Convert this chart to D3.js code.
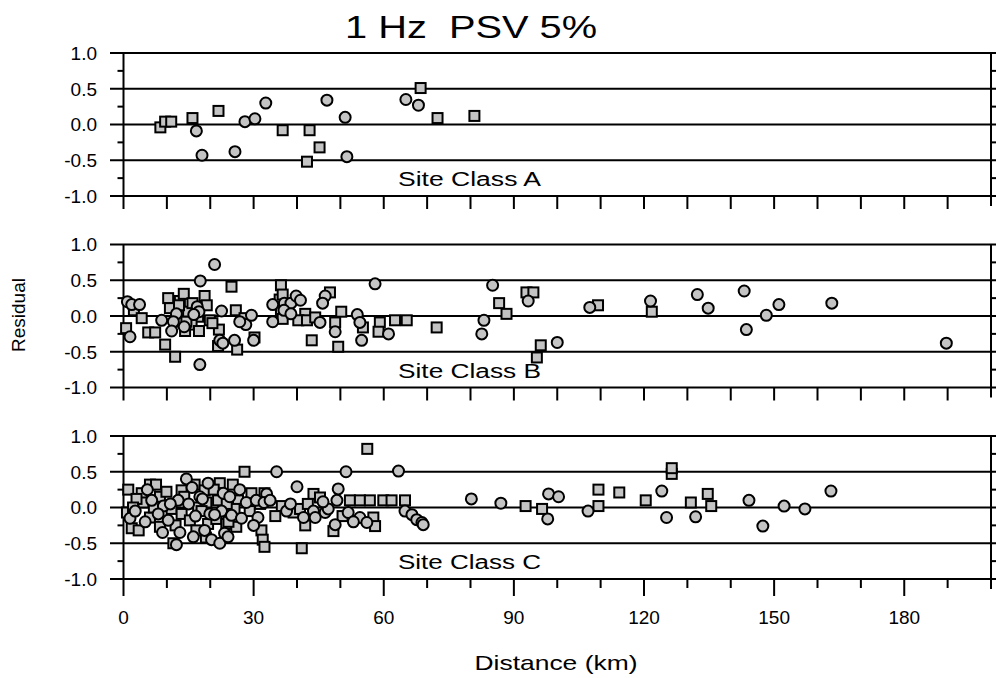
<!DOCTYPE html>
<html>
<head>
<meta charset="utf-8">
<script src="https://cdn.jsdelivr.net/npm/d3@7"></script>
<style>
  html, body { margin: 0; padding: 0; background: #fff; }
  svg { display: block; }
  text { font-family: "Liberation Sans", Arial, Helvetica, sans-serif; fill: #000; }
</style>
</head>
<body>
<svg id="chart" width="996" height="678"></svg>
<script>
// ---------------- DATA ----------------
const titleText = "1 Hz  PSV 5%";
const xTickValues = [0, 30, 60, 90, 120, 150, 180];
const yTickLabels = ["1.0", "0.5", "0.0", "-0.5", "-1.0"];
const yTickValues = [1.0, 0.5, 0.0, -0.5, -1.0];
const panelNames = ["Site Class A", "Site Class B", "Site Class C"];

// symbol: "s" = square, "c" = round marker
const siteA_dist  = [8.5, 9.6, 11, 15.9, 16.8, 18.1, 21.9, 25.7, 28, 30.3, 32.8, 36.7, 42.9, 42.3, 45.2, 46.9, 51.5, 51.1, 65.1, 68, 68.5, 72.4, 80.9];
const siteA_resid = [-0.04, 0.04, 0.04, 0.09, -0.09, -0.43, 0.19, -0.38, 0.04, 0.08, 0.30, -0.08, -0.08, -0.52, -0.32, 0.34, -0.45, 0.10, 0.35, 0.27, 0.51, 0.09, 0.12];
const siteA_sym   = ["s","s","s","s","c","c","s","c","c","c","c","s","s","s","s","c","c","c","c","c","s","s","s"];

const siteB_dist  = [21.0, 17.7, 24.9, 0.9, 1.9, 3.7, 2.4, 4.2, 0.6, 1.5, 5.7, 7.3, 8.8, 9.6, 11.9, 10.3, 10.7, 13, 13.9, 12.2, 13.4, 14.9, 15.9, 17, 18.7, 17.2, 15.7, 14.5, 11.5, 11.1, 14.2, 17.4, 17.4, 19.9, 22.6, 22, 22.2, 21.8, 22.9, 25.6, 25.9, 26.2, 28.2, 29.5, 30.2, 30, 17.6, 27.9, 26.8, 34.4, 36.3, 36, 34.4, 36.3, 36.7,
  36.7, 37.1, 38.6, 39.8, 37, 38.6, 41.9, 40.3, 42.3, 43.4, 45.3, 47.6, 46.5, 45.9, 48.8, 48.8, 49.5, 50.2, 53.9, 54.5, 55.2, 54.9, 58, 59.1, 58.8, 61.1, 62.6, 65.3, 72.2,
  85.1, 86.6, 88.3, 83.1, 82.6, 92.9, 94.5, 93.3, 96.2, 95.3, 100, 107.5, 109.4, 121.5, 121.8, 132.3, 134.8, 143.1, 143.6, 148.2, 151.1, 163.3, 189.7,
  12.8, 16.2, 19.2, 14.0, 20.5, 38.0, 40.8, 44.2];
const siteB_resid = [0.72, 0.49, 0.41, 0.20, 0.16, 0.16, 0.08, -0.03, -0.17, -0.29, -0.23, -0.23, -0.06, -0.40, -0.57, 0.25, 0.11, 0.21, 0.31, 0.03, -0.08, 0.06, 0.18, 0.13, 0.28, -0.01, -0.12, -0.08, -0.08, -0.21, -0.21, -0.21, 0.06, -0.06, 0.07, -0.19, -0.34, -0.42, -0.38, -0.34, 0.08, -0.47, -0.12, 0.01, -0.30, -0.34, -0.68, -0.03, -0.08, 0.16, 0.43, 0.23, -0.08, 0.06, -0.04,
  0.30, 0.18, 0.18, 0.28, 0.08, 0.03, 0.03, -0.06, -0.06, -0.34, -0.09, 0.33, 0.28, 0.18, -0.09, -0.22, -0.43, 0.06, 0.02, -0.09, -0.16, -0.34, 0.45, -0.09, -0.22, -0.25, -0.06, -0.06, -0.16,
  0.43, 0.18, 0.03, -0.06, -0.25, 0.33, 0.33, 0.21, -0.41, -0.58, -0.37, 0.12, 0.15, 0.21, 0.06, 0.30, 0.11, 0.35, -0.19, 0.01, 0.16, 0.18, -0.38,
  0.15, 0.02, 0.15, -0.15, -0.10, 0.12, 0.22, -0.02];
const siteB_sym   = ["c","c","s","c","c","c","s","s","s","c","s","s","c","s","s","s","s","s","s","c","s","s","s","c","s","s","s","s","c","c","s","s","c","s","c","s","c","s","c","c","s","s","c","c","s","c","c","s","c","c","s","s","c","s","s",
  "s","c","c","c","c","c","s","s","s","s","c","s","c","c","s","c","s","s","c","c","s","c","c","s","s","c","s","s","s",
  "c","s","s","c","c","s","s","c","s","s","c","c","s","c","s","c","c","c","c","c","c","c","c",
  "s","c","s","c","s","s","c","s"];

const siteC_dist  = [27.9, 1.1, 0.8, 1.5, 1.9, 2.7, 4.2, 6.1, 7.5, 4.6, 6.5, 8.4, 9.2, 6.1, 8.0, 8.4, 10.3, 11.5, 12.2, 11.1, 12.6, 13.4, 14.5, 13.4, 15.3, 16.1, 16.8, 16.4, 17.6, 17.2, 18.7, 19.5, 19.1, 19.9, 19.5, 18.7, 20.3, 22.2, 23.0, 21.8, 22.6, 21.4, 23.7, 23.3, 22.2, 25.2, 24.5, 26.4, 25.6, 24.9, 26.0, 24.1, 28.3, 29.1, 30.6, 31.0, 32.5, 31.8, 32.1, 32.5,
  56.2, 35.3, 51.3, 63.4, 40.0, 33.0, 32.4, 36.5, 37.6, 39.2, 40.7, 41.5, 41.9, 41.1, 43.8, 45.3, 43.8, 44.2, 46.5, 47.2, 49.5, 49.2, 48.8, 48.4, 52.2, 54.5, 56.8, 51.8, 54.5, 56.1, 57.6, 58.0, 59.9, 61.8, 64.9, 64.9, 66.5, 67.6, 68.8, 69.1,
  80.2, 87.0, 92.7, 96.5, 97.8, 98.0, 100.3, 107.1, 109.5, 109.5, 114.3, 120.4, 124.1, 125.2, 126.4, 126.4, 130.8, 131.9, 134.7, 135.5, 144.2, 147.4, 152.3, 157.1, 163.1,
  3.0, 5.0, 7.0, 9.9, 10.8, 12.0, 13.0, 14.0, 15.0, 15.8, 16.6, 18.0, 18.2, 19.0, 20.8, 21.0, 23.8, 24.2, 26.8, 27.2, 29.5, 30.0, 31.5, 33.8, 35.0, 38.5, 42.5, 46.0, 50.5, 53.0, 3.5, 5.5, 9.0, 2.2];
const siteC_resid = [0.50, 0.25, -0.07, -0.15, -0.29, -0.05, 0.20, 0.32, 0.32, 0.07, 0.10, 0.15, 0.02, -0.14, -0.09, -0.27, -0.18, -0.50, -0.52, -0.02, 0.10, 0.24, 0.40, -0.09, -0.18, -0.41, -0.32, 0.32, 0.15, 0.00, 0.24, 0.34, 0.07, -0.09, -0.23, -0.32, -0.45, 0.34, 0.20, 0.10, -0.05, -0.16, -0.23, -0.36, -0.50, 0.32, 0.15, 0.10, -0.02, -0.11, -0.27, -0.41, 0.07, -0.05, 0.10, -0.14, 0.20, -0.32, -0.45, -0.55,
  0.82, 0.50, 0.50, 0.51, 0.29, 0.19, 0.07, 0.02, -0.05, -0.07, -0.02, -0.14, -0.25, -0.57, 0.19, 0.14, -0.05, -0.14, -0.07, -0.02, 0.26, 0.10, -0.24, -0.33, 0.10, 0.10, 0.10, -0.07, -0.14, -0.21, -0.14, -0.26, 0.10, 0.10, 0.10, -0.05, -0.10, -0.17, -0.21, -0.24,
  0.12, 0.06, 0.02, -0.02, -0.16, 0.19, 0.15, -0.05, 0.02, 0.25, 0.21, 0.10, 0.23, -0.14, 0.47, 0.55, 0.07, -0.13, 0.19, 0.02, 0.10, -0.26, 0.02, -0.02, 0.23,
  0.12, -0.20, 0.00, 0.22, 0.05, -0.25, -0.35, 0.15, 0.05, 0.28, -0.12, -0.05, 0.12, -0.42, 0.25, -0.10, 0.05, -0.20, 0.25, -0.15, 0.20, -0.25, 0.05, 0.10, -0.12, 0.05, 0.05, 0.08, -0.12, -0.20, -0.32, 0.25, -0.35, 0.00];
const siteC_sym   = ["s","s","s","c","s","c","s","s","s","s","c","s","c","s","c","s","c","s","c","s","c","s","c","s","s","c","s","s","c","s","s","c","s","c","s","c","c","s","c","s","c","s","s","c","c","s","c","s","s","c","s","c","c","s","c","c","s","s","s","s",
  "s","c","c","c","c","c","c","s","c","s","s","c","s","s","s","s","c","c","c","c","c","c","c","s","s","s","s","c","c","c","s","s","s","s","s","c","c","c","c","c",
  "c","c","s","s","c","c","c","c","s","s","s","s","c","c","s","s","s","c","s","s","c","c","c","c","c",
  "s","c","s","s","c","s","c","s","c","c","c","s","c","s","s","c","s","s","c","c","s","c","s","c","s","c","s","c","s","c","s","c","c","s"];

// ---------------- LAYOUT ----------------
const svg = d3.select("#chart");
const X0 = 123.5, X1 = 991;
const panelTops = [53, 244.5, 436];
const panelH = 143;
const x = d3.scaleLinear().domain([0, 200]).range([X0, X1]);
const markerFill = "#c4c4c4";
const lw = 2;

svg.append("rect").attr("width", 996).attr("height", 678).attr("fill", "#fff");

// title
svg.append("text").attr("x", 471).attr("y", 38).attr("text-anchor", "middle")
  .attr("font-size", 31).attr("textLength", 252).attr("lengthAdjust", "spacingAndGlyphs")
  .attr("xml:space", "preserve").style("white-space", "pre")
  .text(titleText);

const panels = [
  {dist: siteA_dist, resid: siteA_resid, sym: siteA_sym},
  {dist: siteB_dist, resid: siteB_resid, sym: siteB_sym},
  {dist: siteC_dist, resid: siteC_resid, sym: siteC_sym}
];

panels.forEach((p, i) => {
  const top = panelTops[i];
  const y = d3.scaleLinear().domain([-1, 1]).range([top + panelH, top]);
  const g = svg.append("g");

  // gridlines at major values
  g.selectAll("line.grid").data(yTickValues).join("line")
    .attr("x1", 110).attr("x2", 996)
    .attr("y1", d => y(d)).attr("y2", d => y(d))
    .attr("stroke", "#000").attr("stroke-width", lw);

  // minor ticks left and right
  const minor = [0.75, 0.25, -0.25, -0.75];
  g.selectAll("line.minL").data(minor).join("line")
    .attr("x1", X0 - 6).attr("x2", X0).attr("y1", d => y(d)).attr("y2", d => y(d))
    .attr("stroke", "#000").attr("stroke-width", lw);
  g.selectAll("line.minR").data(minor).join("line")
    .attr("x1", X1).attr("x2", 998).attr("y1", d => y(d)).attr("y2", d => y(d))
    .attr("stroke", "#000").attr("stroke-width", lw);

  // x ticks below panel
  const ticks = d3.range(0, 200, 10);
  g.selectAll("line.xt").data(ticks).join("line")
    .attr("x1", d => x(d)).attr("x2", d => x(d))
    .attr("y1", top + panelH)
    .attr("y2", d => top + panelH + (i === 2 ? (d % 30 === 0 ? 17 : 9) : 13))
    .attr("stroke", "#000").attr("stroke-width", lw);

  // vertical axes
  g.append("line").attr("x1", X0).attr("x2", X0).attr("y1", top).attr("y2", top + panelH)
    .attr("stroke", "#000").attr("stroke-width", lw);
  g.append("line").attr("x1", X1).attr("x2", X1).attr("y1", top).attr("y2", top + panelH + 10)
    .attr("stroke", "#000").attr("stroke-width", lw);

  // y tick labels
  g.selectAll("text.yl").data(yTickValues).join("text")
    .attr("x", 97).attr("y", d => y(d)).attr("dy", "0.36em")
    .attr("text-anchor", "end").attr("font-size", 19)
    .text((d, k) => yTickLabels[k]);

  // panel label
  g.append("text").attr("x", 398).attr("y", y(-0.75) + 8)
    .attr("font-size", 20).attr("textLength", 143).attr("lengthAdjust", "spacingAndGlyphs")
    .text(panelNames[i]);

  // markers
  const pts = p.dist.map((d, k) => ({d, r: p.resid[k], s: p.sym[k]}));
  const ms = 10;
  g.selectAll("rect.mk").data(pts.filter(q => q.s === "s")).join("rect")
    .attr("x", q => x(q.d) - ms / 2).attr("y", q => y(q.r) - ms / 2)
    .attr("width", ms).attr("height", ms)
    .attr("fill", markerFill).attr("stroke", "#000").attr("stroke-width", 2);
  g.selectAll("circle.mk").data(pts.filter(q => q.s === "c")).join("circle")
    .attr("cx", q => x(q.d)).attr("cy", q => y(q.r)).attr("r", 5.5)
    .attr("fill", markerFill).attr("stroke", "#000").attr("stroke-width", 2);
});

// x tick labels
const yC = panelTops[2] + panelH;
svg.selectAll("text.xl").data(xTickValues).join("text")
  .attr("x", d => x(d)).attr("y", yC + 45)
  .attr("text-anchor", "middle").attr("font-size", 19)
  .text(d => d);

// axis titles
svg.append("text").attr("x", 556).attr("y", 670).attr("text-anchor", "middle")
  .attr("font-size", 21).attr("textLength", 163).attr("lengthAdjust", "spacingAndGlyphs")
  .text("Distance (km)");
svg.append("text").attr("transform", "translate(25,315) rotate(-90)")
  .attr("text-anchor", "middle").attr("font-size", 19)
  .text("Residual");
</script>
</body>
</html>
